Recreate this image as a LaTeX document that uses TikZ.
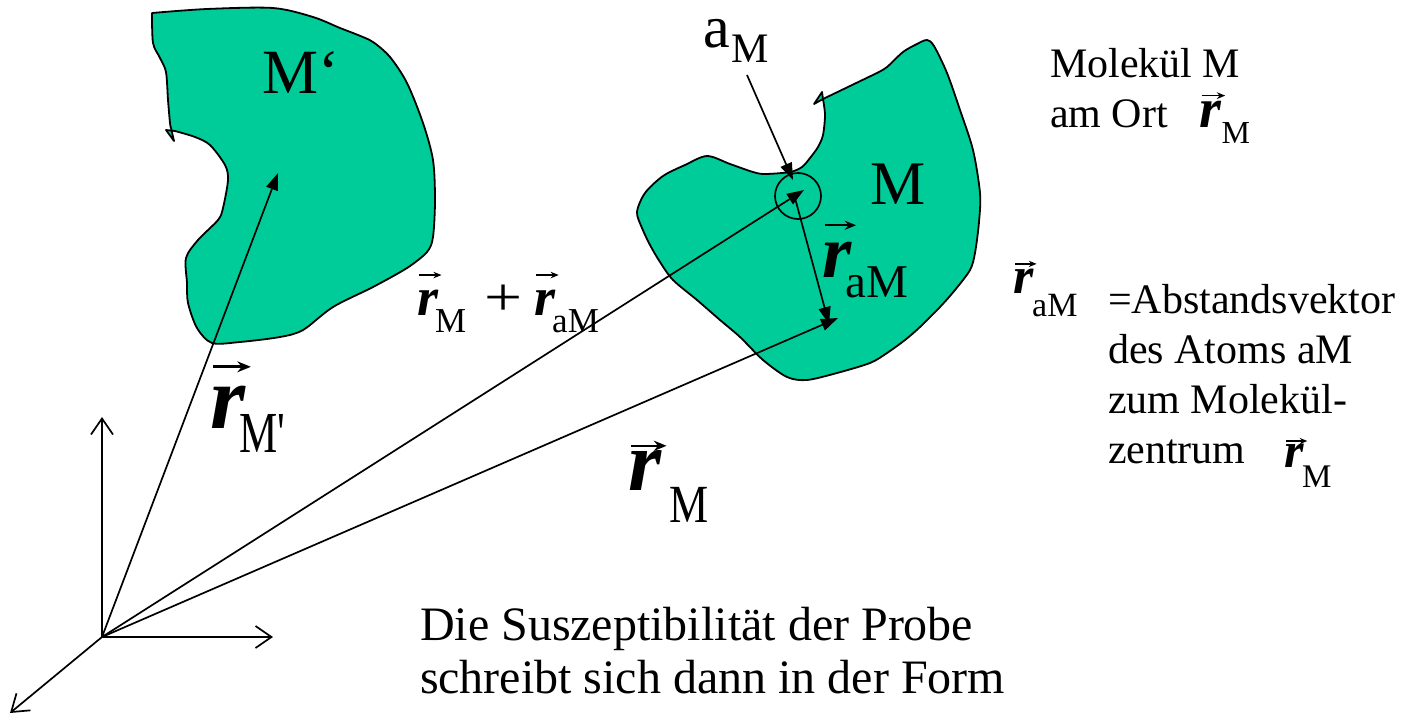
\documentclass[tikz,border=0pt]{standalone}
\usepackage{fontspec}
\usepackage{graphicx}
\setmainfont{Liberation Serif}
\usetikzlibrary{arrows.meta}
\definecolor{blobgreen}{HTML}{00CC99}
\newcommand{\rv}[1][0.6em]{{\bfseries\itshape r}\llap{\tikz[baseline=0pt]\draw[line width=0.03em,-{Stealth[length=0.15em,width=0.12em]}] (0pt,#1)--(0.42em,#1);\kern-0.08em}}
\tikzset{
  blob/.style={draw=black, fill=blobgreen, line width=1.8pt, line join=round},
  vec/.style={-{Triangle[length=17pt,width=12pt]}, line width=1.7pt},
  axis/.style={-{Straight Barb[length=16pt,width=22pt]}, line width=1.7pt},
  lbl/.style={anchor=base west, inner sep=0pt, outer sep=0pt},
  txt/.style={anchor=north west, inner sep=0pt, outer sep=0pt, align=left},
}
\begin{document}
\begin{tikzpicture}[x=1pt,y=-1pt]
\useasboundingbox (0,0) rectangle (1401,715);

% molecule M'
\draw[blob] (152,13) -- plot[smooth,tension=0.5] coordinates {(152,13) (207,9) (273,8) (313,17) (340,28) (358,35) (373,42) (390,57) (407,83) (423,123) (433,160) (435,200) (433,237) (427,252) (407,268) (373,287) (333,307) (303,330) (280,337) (240,342) (212,343) (197,328) (188,303) (187,283) (186,258) (198,240) (218,220) (223,208) (228,180) (225,165) (210,145) (195,137) (175,131)}
  -- (166,130) -- (174,141) -- (171,128)
  -- plot[smooth,tension=0.5] coordinates {(171,128) (170,123) (168,100) (166,72) (160,58) (153,43) (152,13)} -- cycle;

% molecule M
\draw[blob] (823,99) -- (877,73) -- plot[smooth,tension=0.5] coordinates {(877,73) (887,67) (903,52) (917,44) (927,40) (934,46) (947,73) (960,110) (973,150) (980,193) (979,222) (975,253) (970,270) (955,290) (940,307) (920,327) (905,340) (887,353) (870,363) (837,373) (807,380) (787,377) (763,360) (740,337) (720,320) (697,300) (673,280) (660,262) (650,245) (642,228) (637,212) (645,193) (663,176) (685,165) (707,156) (730,164) (753,172) (765,174) (790,172) (802,167) (810,158) (818,147) (823,135) (825,115) (823,99)}
  -- (822,92) -- (814,104) -- cycle;

% coordinates
\coordinate (O) at (102,637);
\coordinate (ZT) at (102,417);
\coordinate (XT) at (273,637);
\coordinate (YT) at (10,713);
\coordinate (Pm) at (278,173);
\coordinate (Pa) at (804,190);
\coordinate (Pr) at (838,318);
\coordinate (Ps) at (795,198);
\coordinate (Pe) at (829,324);
\coordinate (As) at (747,75);
\coordinate (Ae) at (793,180);

% axes
\draw[axis] (O) -- (ZT);
\draw[axis] (O) -- (XT);
\draw[axis] (O) -- (YT);

% vectors
\draw[vec] (O) -- (Pm);
\draw[vec] (O) -- (Pa);
\draw[vec] (O) -- (Pr);
\draw[vec] (Ps) -- (Pe);
\draw[vec] (As) -- (Ae);
\node[circle, draw, line width=1.7pt, minimum size=46pt, inner sep=0pt] (C) at (798,196) {};

% labels
\node[lbl, font=\fontsize{63}{63}\selectfont] (lMp) at (262,93) {M‘};
\node[lbl, font=\fontsize{62}{62}\selectfont] (lM) at (870,204) {M};
\node[lbl] (laM) at (703,47) {\fontsize{60}{60}\selectfont a\kern2pt{\fontsize{42}{42}\selectfont\raisebox{-15pt}{M}}};

\node[lbl] (lRMp) at (210,428) {\fontsize{90}{90}\selectfont\rv[0.68em]\kern-6pt{\fontsize{43}{43}\selectfont\raisebox{-24pt}{\scalebox{1}[1.35]{M\textquotesingle}}}};

\node[lbl] (lSum) at (417,315) {\fontsize{54}{54}\selectfont\rv[0.74em]\kern-3pt{\fontsize{35}{35}\selectfont\raisebox{-17pt}{M}}\hspace{18pt}\scalebox{1.25}[1]{+}\hspace{12pt}\rv[0.74em]\kern-3pt{\fontsize{35}{35}\selectfont\raisebox{-17pt}{aM}}};

\node[lbl] (lRa) at (822,277) {\fontsize{75}{75}\selectfont\rv[0.69em]\kern-6pt{\fontsize{47}{47}\selectfont\raisebox{-20pt}{aM}}};

\node[lbl] (lRM) at (628,490) {\fontsize{85}{85}\selectfont\rv[0.52em]\kern8pt{\fontsize{44}{44}\selectfont\raisebox{-32pt}{\scalebox{1}[1.22]{M}}}};

\node[lbl] (lRa2) at (1013,293) {\fontsize{52}{52}\selectfont\rv[0.56em]\kern-1pt{\fontsize{34}{34}\selectfont\raisebox{-23pt}{aM}}};

\node[txt, font=\fontsize{42}{50}\selectfont] (tMol) at (1050,37) {\rule{0pt}{40pt}Molekül M\\am Ort\hspace{32pt}{\fontsize{56}{56}\selectfont\rv[0.56em]{\fontsize{32}{32}\selectfont\raisebox{-16pt}{M}}}};

\node[txt, font=\fontsize{42}{50}\selectfont] (tAbs) at (1108,273) {\rule{0pt}{40pt}=Abstandsvektor\\des Atoms aM\\zum Molekül-\\zentrum\hspace{39pt}\raisebox{-4pt}{\fontsize{50}{50}\selectfont\rv[0.52em]\kern-2pt{\fontsize{33}{33}\selectfont\raisebox{-20pt}{M}}}};

\node[txt, font=\fontsize{48}{53}\selectfont] (tBot) at (420,594) {\rule{0pt}{46pt}Die Suszeptibilität der Probe\\schreibt sich dann in der Form};
\end{tikzpicture}
\end{document}
